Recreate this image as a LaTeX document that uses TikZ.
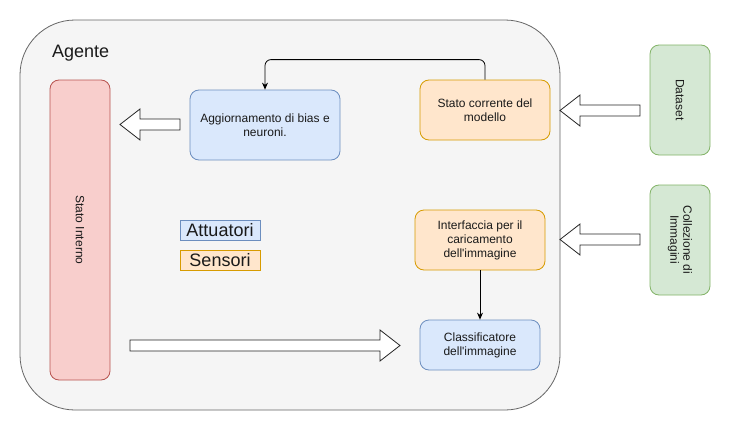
\documentclass[tikz,border=0pt]{standalone}
\usepackage{fontspec}
\setmainfont{Liberation Sans}
\usetikzlibrary{arrows.meta}
\definecolor{contfill}{HTML}{F5F5F5}
\definecolor{contdraw}{HTML}{666666}
\definecolor{bluefill}{HTML}{DAE8FC}
\definecolor{bluedraw}{HTML}{6C8EBF}
\definecolor{orfill}{HTML}{FFE6CC}
\definecolor{ordraw}{HTML}{D79B00}
\definecolor{redfill}{HTML}{F8CECC}
\definecolor{reddraw}{HTML}{B85450}
\definecolor{grfill}{HTML}{D5E8D4}
\definecolor{grdraw}{HTML}{82B366}
\definecolor{txt}{HTML}{1A1A1A}
\tikzset{
  box/.style={rounded corners=9pt, line width=0.8pt, align=center, text=txt,
    font=\fontsize{12}{14}\selectfont, inner sep=2pt},
  bluebox/.style={box, fill=bluefill, draw=bluedraw},
  orbox/.style={box, fill=orfill, draw=ordraw},
  redbox/.style={box, fill=redfill, draw=reddraw},
  grbox/.style={box, fill=grfill, draw=grdraw},
  legend/.style={line width=0.8pt, inner sep=0pt, text=txt,
    font=\fontsize{18}{20}\selectfont, minimum width=80pt, minimum height=20pt},
  blockarrow/.style={fill=white, draw=black!85, line width=0.8pt},
  link/.style={draw=black, line width=0.8pt, -{Stealth[length=7pt,width=6pt]}}
}
\begin{document}
\begin{tikzpicture}[x=1pt,y=-1pt]
\useasboundingbox (0,0) rectangle (731,431);
\fill[white] (0,0) rectangle (731,431);
% container
\node[draw=contdraw, fill=contfill, line width=0.8pt, rounded corners=55pt,
  minimum width=540pt, minimum height=390pt, inner sep=0pt] (agente) at (290,215) {};
\node[anchor=base west, inner sep=0pt, text=txt, font=\fontsize{18}{20}\selectfont] (agentelbl) at (52,57) {Agente};
% boxes
\node[redbox, rotate=-90, minimum width=300pt, minimum height=60pt] (interno) at (80,230) {Stato Interno};
\node[bluebox, minimum width=150pt, minimum height=70pt] (aggiorn) at (265,125) {Aggiornamento di bias e\\neuroni.};
\node[orbox, minimum width=130pt, minimum height=60pt] (corrente) at (485,110) {Stato corrente del\\modello};
\node[orbox, minimum width=130pt, minimum height=60pt] (interf) at (480,240) {Interfaccia per il\\caricamento\\dell\textquotesingle immagine};
\node[bluebox, minimum width=120pt, minimum height=50pt] (classif) at (480,345) {Classificatore\\dell\textquotesingle immagine};
\node[grbox, rotate=-90, minimum width=110pt, minimum height=60pt] (dataset) at (680,100) {Dataset};
\node[grbox, rotate=-90, minimum width=110pt, minimum height=60pt, font=\fontsize{12}{13}\selectfont] (collez) at (680,240) {Collezione di\\Immagini};
% legend
\node[legend, fill=bluefill, draw=bluedraw] (attuat) at (220,230) {Attuatori};
\node[legend, fill=orfill, draw=ordraw] (sensori) at (220,260) {Sensori};
% connectors
\draw[link, rounded corners=6pt] (corrente.north) -- ++(0,-20) -| (aggiorn.north);
\draw[link] (interf.south) -- (classif.north);
% block arrows
\draw[blockarrow] (120,124.5) -- (140,109) -- (140,119) -- (180,119) -- (180,130) -- (140,130) -- (140,140) -- cycle;
\draw[blockarrow] (560,110.5) -- (580,95) -- (580,105) -- (640,105) -- (640,116) -- (580,116) -- (580,126) -- cycle;
\draw[blockarrow] (560,239.5) -- (580,224) -- (580,234) -- (640,234) -- (640,245) -- (580,245) -- (580,255) -- cycle;
\draw[blockarrow] (400,345.5) -- (380,330) -- (380,340) -- (130,340) -- (130,351) -- (380,351) -- (380,361) -- cycle;
\end{tikzpicture}
\end{document}
